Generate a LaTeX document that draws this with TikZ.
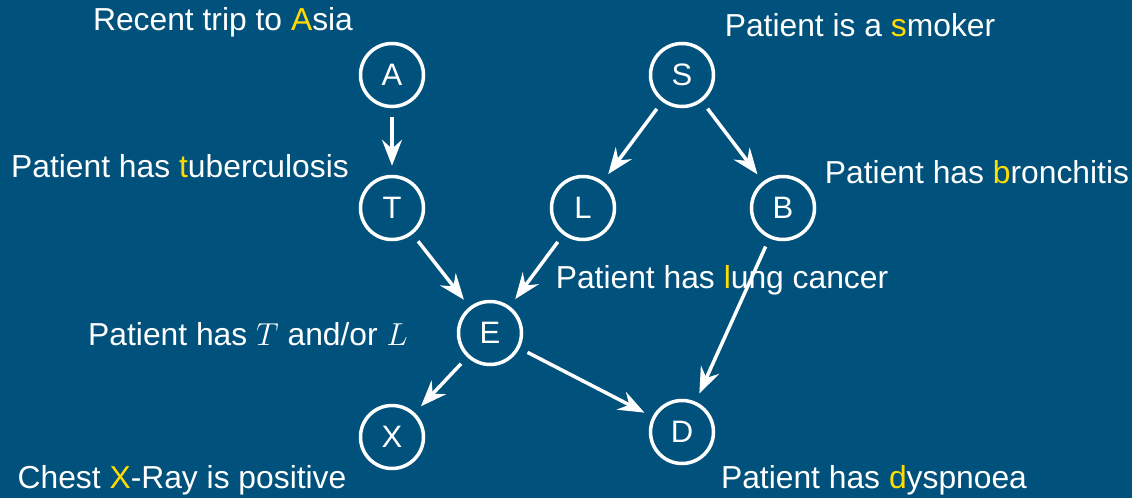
\documentclass[tikz,border=0pt]{standalone}
\usepackage{fix-cm}
\usepackage{fontspec}
\setmainfont{Liberation Sans}
\usetikzlibrary{arrows.meta}
\definecolor{bgblue}{RGB}{0,81,123}
\definecolor{hl}{RGB}{255,221,0}
\newcommand{\hlt}[1]{\textcolor{hl}{#1}}
\begin{document}
\begin{tikzpicture}[x=1pt,y=-1pt,
  var/.style={circle,draw=white,line width=3.5pt,minimum size=63pt,inner sep=0pt,
    text=white,font=\fontsize{31}{36}\selectfont},
  lbl/.style={text=white,font=\fontsize{31.8}{36}\selectfont,inner sep=0pt},
  dep/.style={draw=white,line width=3.5pt,shorten >=9pt,shorten <=9pt,
    -{Stealth[length=26pt 0,width=20pt 0,inset=9pt 0]}}]
  \fill[bgblue] (0,0) rectangle (1132,498);
  \useasboundingbox (0,0) rectangle (1132,498);

  % variables of the network
  \node[var] (A) at (392,75)  {A};
  \node[var] (T) at (392,208) {T};
  \node[var] (S) at (682,75)  {S};
  \node[var] (L) at (583,208) {L};
  \node[var] (B) at (783,208) {B};
  \node[var] (E) at (490,333) {E};
  \node[var] (X) at (392,437) {X};
  \node[var] (D) at (682,432) {D};

  % descriptions
  \node[lbl] (lA) at (223,22)  {Recent trip to \hlt{A}sia};
  \node[lbl] (lS) at (860,25)  {Patient is a \hlt{s}moker};
  \node[lbl] (lT) at (180,166) {Patient has \hlt{t}uberculosis};
  \node[lbl] (lB) at (977,172) {Patient has \hlt{b}ronchitis};
  \node[lbl] (lL) at (722,280) {Patient has \hlt{l}ung cancer};
  \node[lbl] (lE) at (248,334) {Patient has $T$ and/or $L$};
  \node[lbl] (lX) at (182,480) {Chest \hlt{X}-Ray is positive};
  \node[lbl] (lD) at (874,480) {Patient has \hlt{d}yspnoea};

  % dependencies
  \draw[dep] (A) -- (T);
  \draw[dep] (S) -- (L);
  \draw[dep] (S) -- (B);
  \draw[dep] (T) -- (E);
  \draw[dep] (L) -- (E);
  \draw[dep] (E) -- (X);
  \draw[dep] (E) -- (D);
  \draw[dep] (B) -- (D);
\end{tikzpicture}
\end{document}
